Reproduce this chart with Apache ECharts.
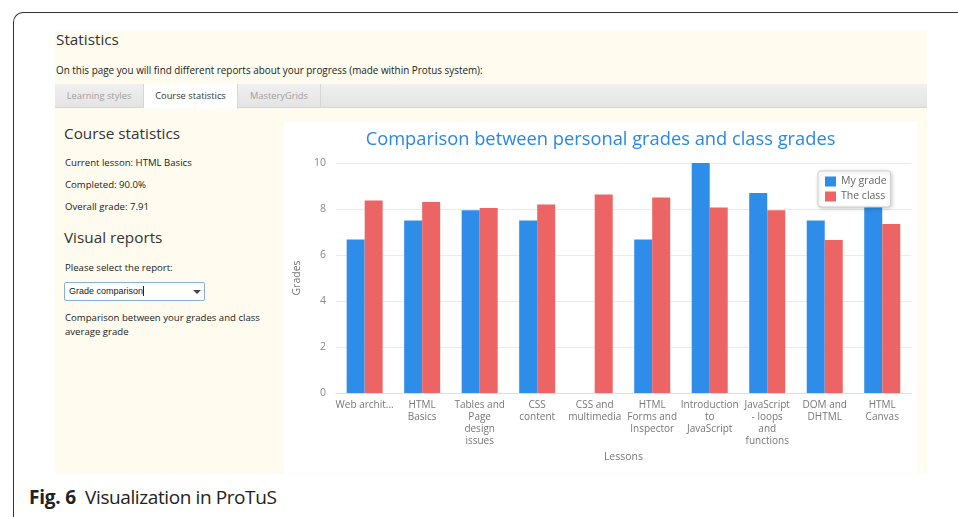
<!DOCTYPE html>
<html>
<head>
<meta charset="utf-8">
<script src="https://cdn.jsdelivr.net/npm/echarts@6/dist/echarts.min.js"></script>
<style>
  html, body { margin:0; padding:0; background:#fff; width:958px; height:517px; overflow:hidden; font-family:"Open Sans", sans-serif; }
  .abs { position:absolute; white-space:nowrap; }
  #frame { position:absolute; left:13px; top:12px; width:1000px; height:600px; border-top:1.5px solid #333; border-left:1.5px solid #333; border-top-left-radius:10px; }
  #panel { position:absolute; left:55px; top:31px; width:872px; height:443px; background:#fffcef; }
  #tabbar { position:absolute; left:55px; top:84px; width:872px; height:23px; background:linear-gradient(#f0f0f0,#e4e4e4); border-bottom:1.5px solid #d6d6d6; }
  .tab { position:absolute; top:0; height:23px; line-height:24px; font-size:9.3px; color:#a0a0a0; text-align:center; border-right:1px solid #d6d6d6; }
  .tab.active { background:#fff; color:#333; height:24.5px; }
  #chart { position:absolute; left:284px; top:122px; width:633px; height:351px; background:#fff; }
  .h { font-size:15.3px; color:#333; line-height:20px; }
  .p { font-size:9.6px; color:#222; line-height:14px; }
  #select { position:absolute; left:64px; top:282px; width:139px; height:17px; background:#fff; border:1px solid #86b0dc; border-radius:2px; font-family:"Liberation Sans", Arial, sans-serif; font-size:9px; line-height:17px; color:#222; }
  #arrow { position:absolute; left:128px; top:7px; width:0; height:0; border-left:4px solid transparent; border-right:4px solid transparent; border-top:4px solid #444; }
  #caption { position:absolute; left:29px; top:485px; font-size:19px; color:#222; line-height:24px; white-space:nowrap; letter-spacing:-0.4px; }
</style>
</head>
<body>
<div id="frame"></div>
<div id="panel"></div>
<div class="abs h" style="left:56px; top:29px;">Statistics</div>
<div class="abs p" style="left:56px; top:63px; font-size:9.9px;">On this page you will find different reports about your progress (made within Protus system):</div>
<div id="tabbar">
  <div class="tab" style="left:0; width:88px;">Learning styles</div>
  <div class="tab active" style="left:89px; width:93px;">Course statistics</div>
  <div class="tab" style="left:183px; width:82px;">MasteryGrids</div>
</div>
<div class="abs h" style="left:64px; top:123px;">Course statistics</div>
<div class="abs p" style="left:65px; top:156px;">Current lesson: HTML Basics</div>
<div class="abs p" style="left:65px; top:178px;">Completed: 90.0%</div>
<div class="abs p" style="left:65px; top:200px;">Overall grade: 7.91</div>
<div class="abs h" style="left:64px; top:227px;">Visual reports</div>
<div class="abs p" style="left:65px; top:261px;">Please select the report:</div>
<div id="select"><span style="padding-left:4px;">Grade comparison</span><span style="border-left:1px solid #222; margin-left:0px;"></span><div id="arrow"></div></div>
<div class="abs p" style="left:65px; top:311px; line-height:14px;">Comparison between your grades and class<br>average grade</div>
<div id="chart"></div>
<div id="caption"><b style="letter-spacing:-0.2px;">Fig. 6</b>&nbsp; Visualization in ProTuS</div>

<script>
// ---- data ----
const categories = ['Web archit...', 'HTML\nBasics', 'Tables and\nPage\ndesign\nissues', 'CSS\ncontent', 'CSS and\nmultimedia', 'HTML\nForms and\nInspector', 'Introduction\nto\nJavaScript', 'JavaScript\n- loops\nand\nfunctions', 'DOM and\nDHTML', 'HTML\nCanvas'];
const seriesNames = ['My grade', 'The class'];
const myGrade = [6.67, 7.5, 7.95, 7.5, 0, 6.67, 10, 8.7, 7.5, 8.7];
const classGrade = [8.37, 8.3, 8.04, 8.2, 8.63, 8.5, 8.07, 7.95, 6.65, 7.35];
const yMin = 0, yMax = 10, yStep = 2;
const chartTitle = 'Comparison between personal grades and class grades';
const xName = 'Lessons', yName = 'Grades';

const chart = echarts.init(document.getElementById('chart'), null, { renderer: 'canvas' });
chart.setOption({
  animation: false,
  textStyle: { fontFamily: 'Open Sans' },
  title: {
    text: chartTitle, left: 'center', top: 4,
    textStyle: { color: '#2b87e0', fontSize: 18.3, fontWeight: 'normal', fontFamily: 'Open Sans' }
  },
  legend: {
    orient: 'vertical', left: 534, top: 49,
    padding: [5, 4, 5, 7], itemWidth: 11, itemHeight: 10, itemGap: 4,
    icon: 'rect',
    backgroundColor: '#fff', borderColor: '#cfcfcf', borderWidth: 1, borderRadius: 3,
    shadowBlur: 4, shadowColor: 'rgba(0,0,0,0.2)', shadowOffsetX: 1, shadowOffsetY: 1,
    textStyle: { fontSize: 10.5, color: '#666', fontFamily: 'Open Sans' },
    data: seriesNames
  },
  grid: { left: 49, right: 6, top: 41, bottom: 80 },
  xAxis: {
    type: 'category', data: categories,
    name: xName, nameLocation: 'middle', nameGap: 58,
    nameTextStyle: { color: '#777', fontSize: 10.5 },
    axisLine: { lineStyle: { color: '#dedede' } },
    axisTick: { show: false },
    axisLabel: { interval: 0, color: '#777', fontSize: 10, lineHeight: 12, margin: 6 }
  },
  yAxis: {
    type: 'value', min: yMin, max: yMax, interval: yStep,
    name: yName, nameLocation: 'middle', nameGap: 26,
    nameTextStyle: { color: '#777', fontSize: 10.5 },
    axisLine: { show: false }, axisTick: { show: false },
    axisLabel: { color: '#888', fontSize: 10.5, margin: 10 },
    splitLine: { lineStyle: { color: '#ebebeb' } }
  },
  series: [
    { type: 'bar', name: seriesNames[0], data: myGrade, barWidth: 18, barGap: '0%', itemStyle: { color: '#2e8de9' } },
    { type: 'bar', name: seriesNames[1], data: classGrade, barWidth: 18, barGap: '0%', itemStyle: { color: '#ec6464' } }
  ]
});
</script>
</body>
</html>
